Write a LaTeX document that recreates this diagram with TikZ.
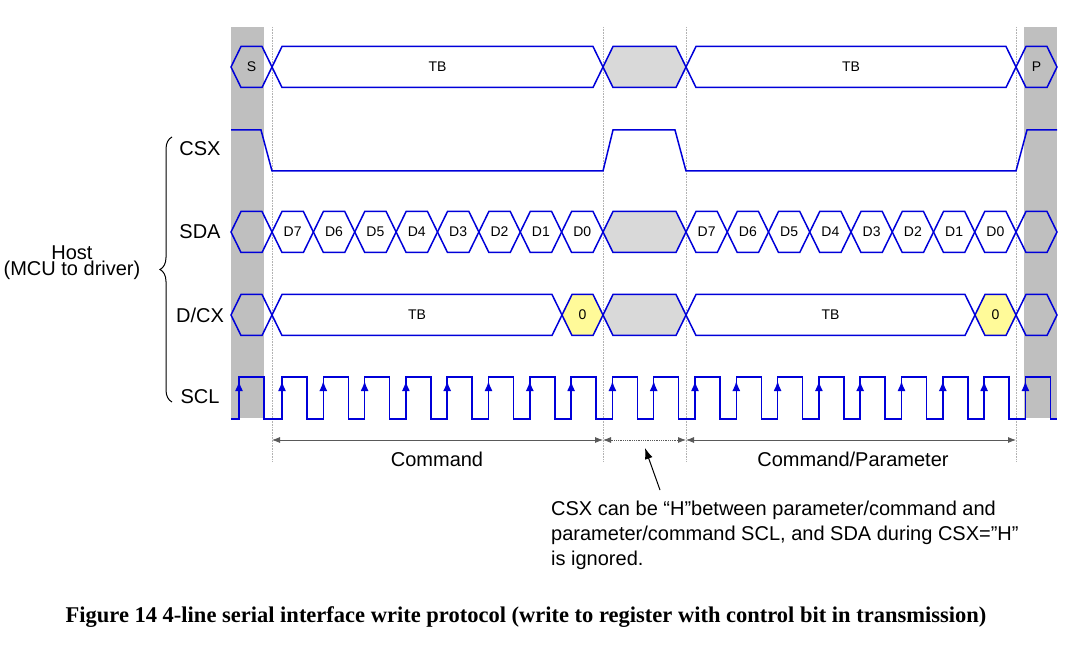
\documentclass[tikz,border=0pt]{standalone}
\usepackage{fontspec}
\setmainfont{Liberation Sans}
\newfontfamily\capfont{Liberation Serif}
\usetikzlibrary{arrows.meta,decorations.pathreplacing,calc}
\tikzset{
  sig/.style={draw=blue!85!black, line width=1.5pt},
  gap/.style={sig, fill=gray!30},
  flag/.style={sig, fill=yellow!40},
  guide/.style={gray!60, densely dotted, line width=0.6pt},
  dim/.style={gray!70!black, line width=0.8pt},
  lbl/.style={font=\fontsize{20}{25}\selectfont},
  bit/.style={font=\fontsize{14}{14}\selectfont},
}
% one bus cell: x1, x2, y centre, style, text
\newcommand{\cell}[5]{%
  \draw[#4] ({#1},{#3}) -- ++(10,-20.5) -- ({#2-10},{#3-20.5}) -- ({#2},{#3}) -- ({#2-10},{#3+20.5}) -- ({#1+10},{#3+20.5}) -- cycle;
  \node[bit] at ({(#1+#2)/2},{#3}) {#5};}
\begin{document}
\begin{tikzpicture}[x=1pt,y=-1pt]
		\useasboundingbox (0,0) rectangle (1080,647);
		\fill[gray!50] (231,27) rectangle (264,418);
		\fill[gray!50] (1024,27) rectangle (1057,418);
		\foreach \gx in {272,603,686,1016}
			\draw[guide] (\gx,27) -- (\gx,462);
		
		% top bus
		\cell{231}{272}{67}{sig}{S}
		\cell{272}{603}{67}{sig}{TB}
		\cell{603}{686}{67}{gap}{}
		\cell{686}{1016}{67}{sig}{TB}
		\cell{1016}{1057}{67}{sig}{P}
		
		% CSX
		\draw[sig] (231,130) -- (261,130) -- (272,171) -- (603,171) -- (613,130) -- (675,130)
			-- (686,171) -- (1016,171) -- (1027,130) -- (1057,130);
		
		% SDA
		\cell{231}{272}{232}{sig}{}
		\foreach \b [count=\i from 0] in {7,...,0} {
			\cell{272+41.375*\i}{272+41.375*(\i+1)}{232}{sig}{D\b}
			\cell{686+41.25*\i}{686+41.25*(\i+1)}{232}{sig}{D\b}
		}
		\cell{603}{686}{232}{gap}{}
		\cell{1016}{1057}{232}{sig}{}
		
		% D/CX
		\cell{231}{272}{315}{sig}{}
		\cell{272}{562}{315}{sig}{TB}
		\cell{562}{603}{315}{flag}{0}
		\cell{603}{686}{315}{gap}{}
		\cell{686}{975}{315}{sig}{TB}
		\cell{975}{1016}{315}{flag}{0}
		\cell{1016}{1057}{315}{sig}{}
		
		% SCL
		\draw[sig] (231,419) -- (239,419) -- (239,377) -- (264,377) -- (264,419)
			\foreach \k in {0,...,18} { -- ({282+41.3*\k},419) -- ({282+41.3*\k},377) -- ({307+41.3*\k},377) -- ({307+41.3*\k},419) }
			-- (1057,419);
		\foreach \k in {0,...,18}
			\draw[sig, -{Latex[length=10pt,width=8pt]}] ({282+41.3*\k},400) -- ({282+41.3*\k},381);
		\draw[sig, -{Latex[length=10pt,width=8pt]}] (239,400) -- (239,381);
		
		% signal names
		\node[lbl] (csx) at (200,149) {CSX};
		\node[lbl] (sda) at (200,232) {SDA};
		\node[lbl] (dcx) at (200,315) {D/CX};
		\node[lbl] (scl) at (200,397) {SCL};
		\draw[decorate, decoration={brace, amplitude=12pt}, line width=1pt] (172,402) -- (172,137);
		\node[lbl, align=center, inner sep=0pt, font=\fontsize{20}{16}\selectfont] (host) at (72,263) {Host\\(MCU to driver)};
		
		% spans
		\coordinate (c1) at (272,440);
		\coordinate (c2) at (603,440);
		\coordinate (c3) at (686,440);
		\coordinate (c4) at (1016,440);
		\draw[dim, {Latex[length=8pt,width=6pt]}-{Latex[length=8pt,width=6pt]}] (c1) -- (c2);
		\draw[dim, densely dotted, {Latex[length=8pt,width=6pt]}-{Latex[length=8pt,width=6pt]}] (c2) -- (c3);
		\draw[dim, {Latex[length=8pt,width=6pt]}-{Latex[length=8pt,width=6pt]}] (c3) -- (c4);
		\node[lbl] (cmd) at (437,459) {Command};
		\node[lbl] (par) at (853,459) {Command/Parameter};
		
		% note
		\node[lbl, align=left, anchor=north west, inner sep=0pt] (note) at (551,501)
			{CSX can be ``H''between parameter/command and\\ parameter/command SCL, and SDA during CSX="H"\\ is ignored.};
		\draw[-{Latex[length=11pt,width=8pt]}, line width=1pt] (660,490) -- (645,448);
		
		\node[font=\capfont\bfseries\fontsize{22.5}{22.5}\selectfont] (cap) at (526,617)
			{Figure 14 4-line serial interface write protocol (write to register with control bit in transmission)};
	\end{tikzpicture}
\end{document}
